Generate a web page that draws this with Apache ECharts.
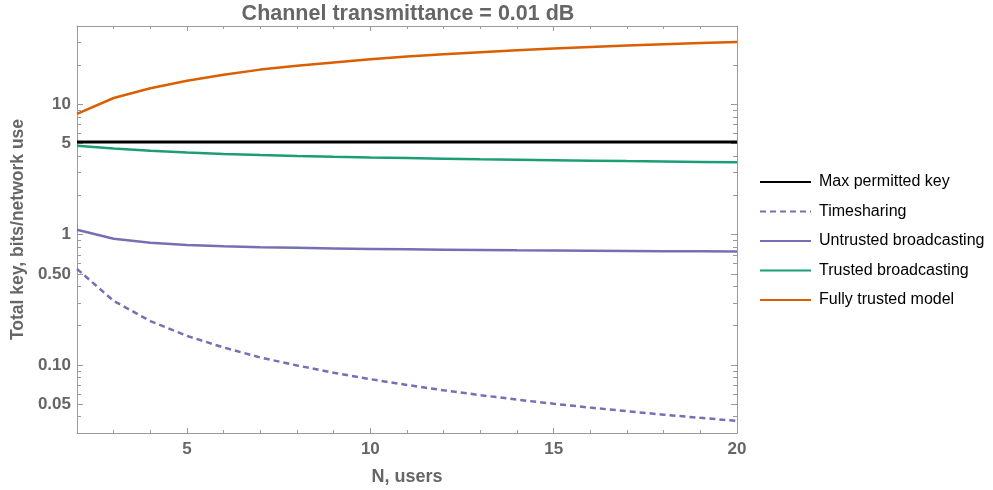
<!DOCTYPE html>
<html>
<head>
<meta charset="utf-8">
<script src="https://cdn.jsdelivr.net/npm/echarts@6/dist/echarts.min.js"></script>
<style>
  html, body { margin: 0; padding: 0; background: #fff; }
  #chart { width: 993px; height: 490px; }
</style>
</head>
<body>
<div id="chart"></div>
<script>
// Number of users N
const users = [2, 3, 4, 5, 6, 7, 8, 9, 10, 11, 12, 13, 14, 15, 16, 17, 18, 19, 20];

// Total key (bits per network use) for each scheme
const maxPermittedKey = [5.15, 5.15, 5.15, 5.15, 5.15, 5.15, 5.15, 5.15, 5.15, 5.15,
                         5.15, 5.15, 5.15, 5.15, 5.15, 5.15, 5.15, 5.15, 5.15];
const timesharing = [0.545, 0.31, 0.217, 0.167, 0.136, 0.114, 0.099, 0.087, 0.0777, 0.0701,
                     0.0638, 0.0586, 0.0541, 0.0503, 0.047, 0.0441, 0.0415, 0.0392, 0.0372];
const untrustedBroadcasting = [1.09, 0.93, 0.866, 0.834, 0.814, 0.80, 0.792, 0.784, 0.777, 0.771,
                               0.766, 0.762, 0.758, 0.755, 0.752, 0.749, 0.747, 0.745, 0.743];
const trustedBroadcasting = [4.82, 4.58, 4.41, 4.28, 4.17, 4.09, 4.02, 3.96, 3.91, 3.87,
                             3.83, 3.79, 3.76, 3.73, 3.70, 3.67, 3.65, 3.62, 3.59];
const fullyTrusted = [8.45, 11.2, 13.3, 15.2, 16.9, 18.5, 19.8, 21.0, 22.2, 23.3,
                      24.3, 25.2, 26.1, 26.9, 27.6, 28.3, 29.0, 29.6, 30.2];

// Tick positions
const xMajorTicks = [5, 10, 15, 20];
const xMinorTicks = [3, 4, 6, 7, 8, 9, 11, 12, 13, 14, 16, 17, 18, 19];
const yMajorTicks = [0.05, 0.1, 0.5, 1, 5, 10];
const yMinorTicks = [0.04, 0.06, 0.07, 0.08, 0.09, 0.2, 0.3, 0.4, 0.6, 0.7, 0.8, 0.9,
                     2, 3, 4, 6, 7, 8, 9, 20, 30];
const yTickLabels = { 0.05: '0.05', 0.1: '0.10', 0.5: '0.50', 1: '1', 5: '5', 10: '10' };

const FONT = "'Liberation Sans', Arial, Helvetica, sans-serif";
const TEXT_GRAY = '#666666';
const FRAME_GRAY = '#9a9a9a';
const X_MIN = 2, X_MAX = 20, Y_MIN = 0.03, Y_MAX = 40;

const pairs = vals => users.map((n, i) => [n, vals[i]]);

function xAxisFor(position, ticks, len, withLabels) {
  return {
    type: 'value', min: X_MIN, max: X_MAX, position: position,
    axisLine: { show: withLabels !== null, lineStyle: { color: FRAME_GRAY, width: 1 } },
    axisTick: { show: true, inside: true, length: len, customValues: ticks,
                lineStyle: { color: FRAME_GRAY, width: 1 } },
    axisLabel: withLabels ? {
      show: true, customValues: ticks, color: TEXT_GRAY, fontWeight: 'bold',
      fontSize: 17, fontFamily: FONT, margin: 8
    } : { show: false },
    splitLine: { show: false }
  };
}

function yAxisFor(position, ticks, len, withLabels) {
  return {
    type: 'log', logBase: 10, min: Y_MIN, max: Y_MAX, position: position,
    axisLine: { show: withLabels !== null, lineStyle: { color: FRAME_GRAY, width: 1 } },
    axisTick: { show: true, inside: true, length: len, customValues: ticks,
                lineStyle: { color: FRAME_GRAY, width: 1 } },
    axisLabel: withLabels ? {
      show: true, customValues: ticks, color: TEXT_GRAY, fontWeight: 'bold',
      fontSize: 17, fontFamily: FONT, margin: 6,
      formatter: v => yTickLabels[v] !== undefined ? yTickLabels[v] : String(v)
    } : { show: false },
    splitLine: { show: false },
    splitArea: { show: false },
    minorTick: { show: false }
  };
}

const xAxes = [
  Object.assign(xAxisFor('bottom', xMajorTicks, 5, true), {
    name: 'N, users', nameLocation: 'middle', nameGap: 35,
    nameTextStyle: { color: TEXT_GRAY, fontWeight: 'bold', fontSize: 18, fontFamily: FONT }
  }),
  xAxisFor('bottom', xMinorTicks, 3, null),
  xAxisFor('top', xMajorTicks, 5, false),
  xAxisFor('top', xMinorTicks, 3, null)
];

const yAxes = [
  Object.assign(yAxisFor('left', yMajorTicks, 6, true), {
    name: 'Total key, bits/network use', nameLocation: 'middle', nameGap: 42,
    nameTextStyle: { color: TEXT_GRAY, fontWeight: 'bold', fontSize: 17.5, fontFamily: FONT }
  }),
  yAxisFor('left', yMinorTicks, 4, null),
  yAxisFor('right', yMajorTicks, 6, false),
  yAxisFor('right', yMinorTicks, 4, null)
];

function lineSeries(name, vals, color, width, dash) {
  return {
    name: name, type: 'line', xAxisIndex: 0, yAxisIndex: 0,
    data: pairs(vals), symbol: 'none', smooth: false, animation: false,
    lineStyle: { color: color, width: width, type: dash || 'solid' },
    itemStyle: { color: color }
  };
}

const chart = echarts.init(document.getElementById('chart'), null, { renderer: 'canvas' });
chart.setOption({
  animation: false,
  backgroundColor: '#ffffff',
  title: {
    text: 'Channel transmittance = 0.01 dB',
    left: 408, top: 0, textAlign: 'center', padding: [3, 0, 0, 0],
    textStyle: { color: TEXT_GRAY, fontWeight: 'bold', fontSize: 21.5, fontFamily: FONT }
  },
  grid: { left: 77, right: 256, top: 26, bottom: 57, containLabel: false, outerBoundsMode: 'none' },
  legend: {
    orient: 'vertical', left: 759, top: 174, padding: 0,
    itemWidth: 51, itemHeight: 16, itemGap: 13.5,
    itemStyle: { opacity: 0 },
    textStyle: { color: '#000', fontSize: 16, fontFamily: FONT, lineHeight: 16, padding: [0, 0, 0, 3] },
    data: ['Max permitted key', 'Timesharing', 'Untrusted broadcasting', 'Trusted broadcasting', 'Fully trusted model']
  },
  xAxis: xAxes,
  yAxis: yAxes,
  series: [
    lineSeries('Max permitted key', maxPermittedKey, '#000000', 3),
    lineSeries('Timesharing', timesharing, '#7570b3', 2.5, [6, 4]),
    lineSeries('Untrusted broadcasting', untrustedBroadcasting, '#7570b3', 2.5),
    lineSeries('Trusted broadcasting', trustedBroadcasting, '#1b9e77', 2.5),
    lineSeries('Fully trusted model', fullyTrusted, '#d95f02', 2.5)
  ]
});
</script>
</body>
</html>
